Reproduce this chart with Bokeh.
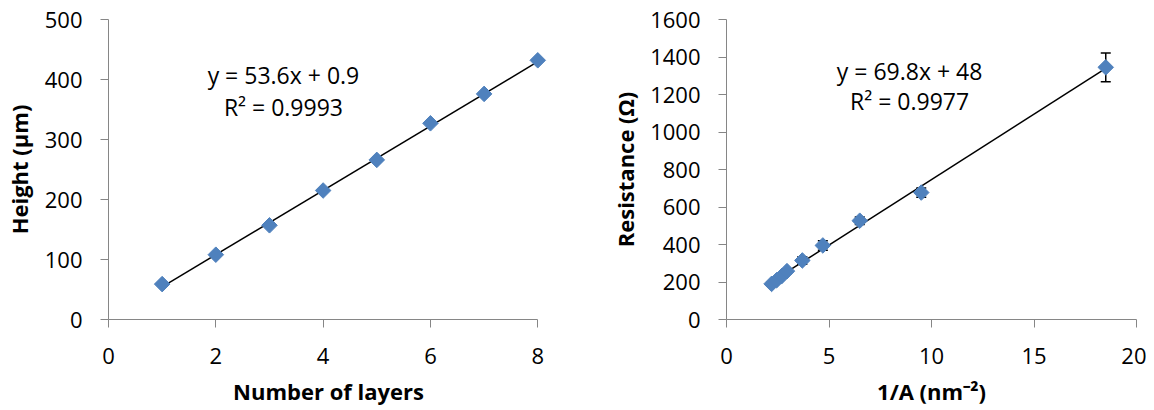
from bokeh.plotting import figure
from bokeh.layouts import row
from bokeh.models import Range1d, FixedTicker, Whisker, ColumnDataSource, Label
from bokeh.embed import file_html
from bokeh.resources import INLINE

# ---- data: left panel ----
layers = [1, 2, 3, 4, 5, 6, 7, 8]
height_um = [59, 108, 157, 215, 266, 327, 376, 432]
fit1_slope, fit1_icpt = 53.6, 0.9
left_xticks = [0, 2, 4, 6, 8]
left_yticks = [0, 100, 200, 300, 400, 500]

# ---- data: right panel ----
inv_area = [2.2, 2.45, 2.7, 2.95, 3.7, 4.7, 6.5, 9.5, 18.5]
resistance = [190, 210, 232, 258, 315, 395, 527, 677, 1345]
res_err = [10, 10, 10, 12, 20, 25, 20, 25, 77]
fit2_slope, fit2_icpt = 69.8, 48
right_xticks = [0, 5, 10, 15, 20]
right_yticks = [0, 200, 400, 600, 800, 1000, 1200, 1400, 1600]

FONT = "Open Sans"
AXIS_COL = "#868686"
BLUE = "#4F81BD"


def style(p, xticks, yticks, xlabel, ylabel, ylabel_standoff):
    p.xaxis.ticker = FixedTicker(ticks=xticks)
    p.yaxis.ticker = FixedTicker(ticks=yticks)
    p.xaxis.bounds = (xticks[0], xticks[-1])
    p.yaxis.bounds = (yticks[0], yticks[-1])
    p.xgrid.visible = False
    p.ygrid.visible = False
    p.outline_line_color = None
    for ax in (p.xaxis[0], p.yaxis[0]):
        ax.axis_line_color = AXIS_COL
        ax.major_tick_line_color = AXIS_COL
        ax.minor_tick_line_color = None
        ax.major_tick_out = 8
        ax.major_tick_in = 0
        ax.major_label_text_font = FONT
        ax.major_label_text_font_size = "22px"
        ax.major_label_text_color = "#000000"
        ax.axis_label_text_font = FONT
        ax.axis_label_text_font_size = "22px"
        ax.axis_label_text_font_style = "bold"
        ax.axis_label_text_color = "#000000"
    p.xaxis.axis_label = xlabel
    p.yaxis.axis_label = ylabel
    p.xaxis.major_label_standoff = 20
    p.yaxis.major_label_standoff = 18
    p.xaxis.axis_label_standoff = 9
    p.yaxis.axis_label_standoff = ylabel_standoff


def text(p, x, y, s):
    p.add_layout(Label(x=x, y=y, text=s, text_align="center", text_baseline="middle",
                       text_font=FONT, text_font_size="23px", text_color="#000000"))


# ---- left figure ----
p1 = figure(frame_width=440, frame_height=300, output_backend="svg", toolbar_location=None,
            x_range=Range1d(0, 8.2), y_range=Range1d(0, 500),
            min_border_left=100, min_border_right=30, min_border_top=19, min_border_bottom=0)
style(p1, left_xticks, left_yticks, "Number of layers", "Height (µm)", 8)
fx1 = [min(layers), max(layers)]
p1.line(fx1, [fit1_slope * v + fit1_icpt for v in fx1], line_color="black", line_width=1.5)
p1.scatter(layers, height_um, marker="square", size=11, angle=0.785398,
           fill_color=BLUE, line_color=BLUE)
text(p1, 3.26, 407, f"y = {fit1_slope}x + {fit1_icpt}")
text(p1, 3.26, 355, "R² = 0.9993")

# ---- right figure ----
p2 = figure(frame_width=410, frame_height=300, output_backend="svg", toolbar_location=None,
            x_range=Range1d(0, 20), y_range=Range1d(0, 1600),
            min_border_left=148, min_border_right=10, min_border_top=19, min_border_bottom=0)
style(p2, right_xticks, right_yticks, "1/A (nm⁻²)", "Resistance (Ω)", 7)
src = ColumnDataSource(data=dict(x=inv_area, y=resistance,
                                 lo=[r - e for r, e in zip(resistance, res_err)],
                                 hi=[r + e for r, e in zip(resistance, res_err)]))
w = Whisker(source=src, base="x", upper="hi", lower="lo", line_color="black", line_width=1.5)
w.upper_head.size = 10
w.lower_head.size = 10
w.upper_head.line_width = 1.5
w.lower_head.line_width = 1.5
p2.add_layout(w)
fx2 = [min(inv_area), max(inv_area)]
p2.line(fx2, [fit2_slope * v + fit2_icpt for v in fx2], line_color="black", line_width=1.5)
p2.scatter("x", "y", source=src, marker="square", size=11, angle=0.785398,
           fill_color=BLUE, line_color=BLUE)
text(p2, 8.93, 1328, f"y = {fit2_slope}x + {fit2_icpt}")
text(p2, 8.93, 1163, "R² = 0.9977")

layout = row(p1, p2)
open("out.html", "w").write(file_html(layout, INLINE))
